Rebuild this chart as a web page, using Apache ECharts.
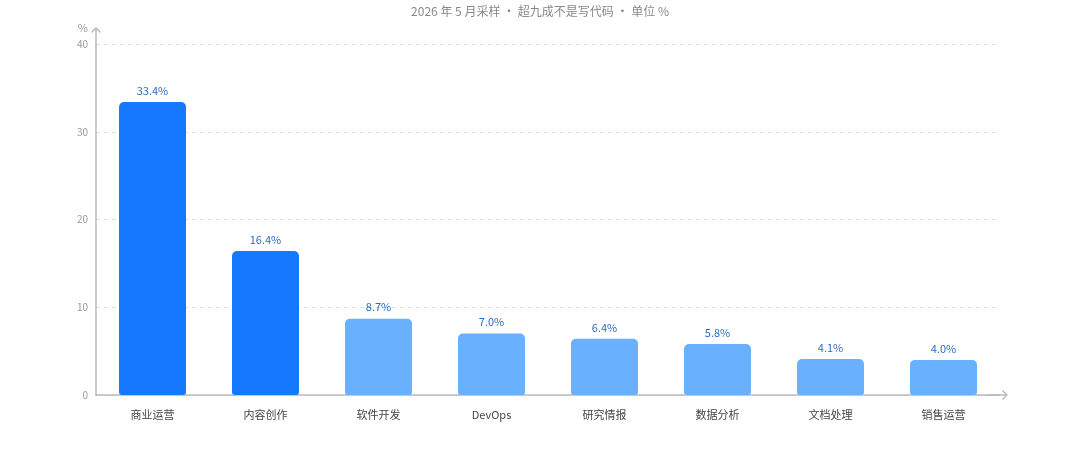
<!DOCTYPE html>
<html>
<head>
<meta charset="utf-8">
<script src="https://cdn.jsdelivr.net/npm/echarts@6/dist/echarts.min.js"></script>
<style>
html, body { margin: 0; padding: 0; background: #fff; }
#main { width: 1080px; height: 459px; }
</style>
</head>
<body>
<div id="main"></div>
<script>
// 数据
var categories = ['商业运营', '内容创作', '软件开发', 'DevOps', '研究情报', '数据分析', '文档处理', '销售运营'];
var shares = [33.4, 16.4, 8.7, 7.0, 6.4, 5.8, 4.1, 4.0];
var highlightCount = 2;  // 前两项深色

var chart = echarts.init(document.getElementById('main'));

// 空心箭头(带一段轴线)
var openArrow = 'path://M5,0 L10,5 L9,6 L5,2 L1,6 L0,5 Z M4.25,1 L5.75,1 L5.75,20 L4.25,20 Z';

var barData = shares.map(function (v, i) {
    return {
        value: v,
        itemStyle: { color: i < highlightCount ? '#1677ff' : '#69b1ff' }
    };
});

var option = {
    textStyle: { fontFamily: '"Noto Sans CJK SC", "Noto Sans", sans-serif' },
    title: {
        subtext: '2026 年 5 月采样 · 超九成不是写代码 · 单位 %',
        left: 535,
        textAlign: 'center',
        top: -10,
        subtextStyle: { color: '#888', fontSize: 12 }
    },
    grid: {
        left: 96,
        right: 80,
        top: 44,
        bottom: 64
    },
    xAxis: {
        type: 'category',
        data: categories,
        axisLine: {
            lineStyle: { color: '#bbb', width: 1.5 },
            symbol: ['none', openArrow],
            symbolSize: [10, 20],
            symbolOffset: [0, -2]
        },
        axisTick: { show: false },
        axisLabel: { color: '#444', fontSize: 11, margin: 14 }
    },
    yAxis: {
        type: 'value',
        min: 0,
        max: 40,
        interval: 10,
        name: '%',
        nameGap: 11,
        nameTextStyle: { color: '#999', fontSize: 11, align: 'right', padding: [0, 8, 0, 0] },
        axisLine: {
            show: true,
            lineStyle: { color: '#bbb', width: 1.5 },
            symbol: ['none', openArrow],
            symbolSize: [10, 20],
            symbolOffset: [0, 7]
        },
        axisTick: { show: false },
        axisLabel: { color: '#999', fontSize: 10, margin: 8 },
        splitLine: {
            lineStyle: { color: '#ddd', type: [4, 4] }
        }
    },
    series: [{
        type: 'bar',
        data: barData,
        barWidth: 67,
        itemStyle: { borderRadius: [5, 5, 3, 3] },
        label: {
            show: true,
            position: 'top',
            distance: 6,
            color: '#2f6cc0',
            fontSize: 11,
            formatter: function (p) { return p.value.toFixed(1) + '%'; }
        }
    }]
};

chart.setOption(option);
</script>
</body>
</html>
